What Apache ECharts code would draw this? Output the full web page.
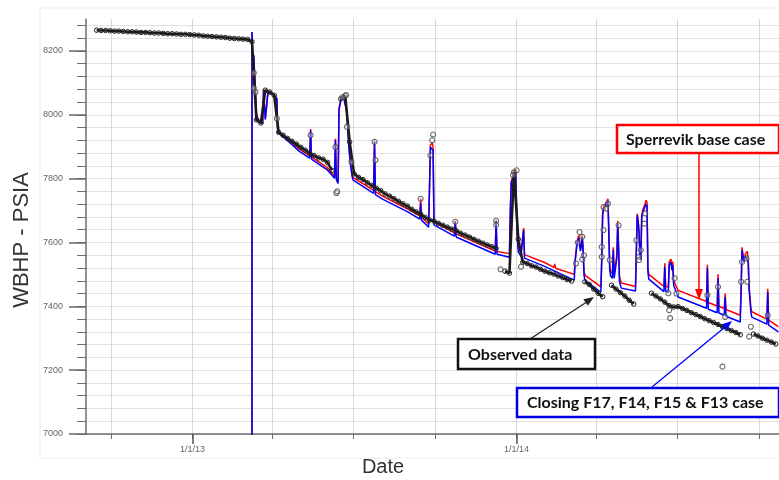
<!DOCTYPE html>
<html><head><meta charset="utf-8">
<script src="https://cdn.jsdelivr.net/npm/echarts@6/dist/echarts.min.js"></script>
<style>html,body{margin:0;padding:0;background:#fff}#c{width:779px;height:480px}</style>
</head><body><div id="c"></div>
<script>
// ---------- data ----------
const observedStart = '2012-09-15';
const observedStepDays = 5;
const observedValues = [
8265,8264,8264,8263,8262,8262,8261,8260,8260,8259,
8258,8258,8257,8256,8256,8255,8254,8254,8253,8252,
8252,8251,8250,8249,8247,8246,8245,8244,8243,8242,
8240,8239,8238,8237,8236,8229,7984,7974,8077,8071,
8061,7945,7936,7926,7917,7908,7898,7889,7880,7872,
7865,7861,7851,7826,null,8050,8060,7915,7815,7804,
7797,7787,7779,7770,7762,7752,7745,7737,7729,7721,
7714,7704,7696,7689,7679,7670,7667,7660,7654,7648,
7642,7637,7629,7623,7617,7610,7604,7598,7592,7587,
7581,null,7510,7504,7820,7610,7538,7534,7527,7523,
7516,7510,7505,7501,7495,7490,7484,7479,null,null,
7477,7468,7454,7441,7430,null,7466,7454,7443,7432,
7419,7407,null,null,null,7441,7432,7423,7413,7402,
7398,7399,7393,7387,7380,7374,7368,7361,7355,7349,
7343,7336,7330,7324,7318,7311,null,null,7313,7307,
7300,7294,7288,7282
];
const observedExtra = [
['2013-03-11',8131],['2013-03-11',8084],['2013-03-13',8071],['2013-04-06',7988],['2013-05-14',7936],
['2013-06-11',7899],['2013-06-12',7755],['2013-06-13',7760],['2013-06-19',8055],['2013-06-23',8062],
['2013-06-24',7962],['2013-06-29',7852],['2013-07-25',7915],['2013-07-26',7858],['2013-09-15',7737],
['2013-09-26',7873],['2013-09-28',7920],['2013-09-29',7938],['2013-10-24',7665],['2013-12-09',7668],
['2013-12-09',7655],['2013-12-14',7516],['2013-12-28',7811],['2014-01-01',7826],['2014-01-06',7524],
['2014-03-09',7534],['2014-03-11',7600],['2014-03-13',7633],['2014-03-16',7618],['2014-03-16',7547],
['2014-03-18',7560],['2014-04-07',7586],['2014-04-07',7555],['2014-04-09',7711],['2014-04-09',7639],
['2014-04-12',7706],['2014-04-14',7722],['2014-04-16',7545],['2014-04-26',7654],['2014-05-16',7607],
['2014-05-19',7555],['2014-05-19',7545],['2014-05-21',7576],['2014-05-25',7659],['2014-05-26',7691],
['2014-06-21',7441],['2014-06-22',7388],['2014-06-23',7363],['2014-06-28',7488],['2014-06-30',7440],
['2014-08-04',7435],['2014-08-16',7461],['2014-08-21',7211],['2014-08-24',7367],['2014-09-11',7477],
['2014-09-12',7539],['2014-09-17',7550],['2014-09-18',7477],['2014-09-20',7305],['2014-09-22',7336],
['2014-10-11',7372]
];
const baseCase = [
['2013-03-09',6000],['2013-03-09',8259],['2013-03-10',8135],['2013-03-11',8188],['2013-03-12',8125],['2013-03-14',8003],['2013-03-15',7993],['2013-03-18',7978],['2013-03-21',7975],['2013-03-22',8078],['2013-03-23',8073],['2013-03-24',7988],['2013-03-26',7988],['2013-03-27',8073],['2013-04-01',8068],['2013-04-06',8052],['2013-04-07',7948],['2013-04-08',7945],['2013-04-20',7920],['2013-05-01',7893],['2013-05-13',7871],['2013-05-14',7955],['2013-05-15',7868],['2013-06-01',7836],['2013-06-07',7818],['2013-06-10',7808],['2013-06-11',7925],['2013-06-12',7804],['2013-06-14',7792],['2013-06-15',8020],['2013-06-17',8050],['2013-06-20',8063],['2013-06-22',8058],['2013-06-24',8010],['2013-06-26',7906],['2013-06-28',7848],['2013-06-30',7810],['2013-07-01',7803],['2013-07-24',7763],['2013-07-25',7918],['2013-07-26',7759],['2013-08-03',7745],['2013-09-01',7704],['2013-09-14',7683],['2013-09-15',7738],['2013-09-16',7680],['2013-09-24',7658],['2013-09-26',7905],['2013-09-28',7912],['2013-09-29',7898],['2013-09-30',7664],['2013-10-01',7660],['2013-10-23',7630],['2013-10-24',7668],['2013-10-25',7627],['2013-12-08',7573],['2013-12-09',7670],['2013-12-10',7572],['2013-12-24',7565],['2013-12-25',7700],['2013-12-26',7792],['2013-12-31',7830],['2014-01-01',7826],['2014-01-02',7615],['2014-01-03',7580],['2014-01-06',7568],['2014-01-08',7567],['2014-01-09',7645],['2014-01-10',7562],['2014-02-01',7538],['2014-02-12',7522],['2014-02-13',7533],['2014-02-14',7519],['2014-03-07',7500],['2014-03-08',7545],['2014-03-10',7600],['2014-03-12',7622],['2014-03-13',7628],['2014-03-14',7580],['2014-03-15',7595],['2014-03-16',7625],['2014-03-17',7582],['2014-03-18',7510],['2014-03-19',7498],['2014-04-06',7461],['2014-04-07',7550],['2014-04-08',7692],['2014-04-09',7714],['2014-04-12',7724],['2014-04-14',7737],['2014-04-15',7732],['2014-04-16',7525],['2014-04-17',7510],['2014-04-19',7503],['2014-04-20',7585],['2014-04-21',7503],['2014-04-23',7498],['2014-04-24',7560],['2014-04-25',7668],['2014-04-26',7585],['2014-04-27',7492],['2014-04-29',7473],['2014-05-15',7462],['2014-05-16',7580],['2014-05-17',7690],['2014-05-18',7670],['2014-05-19',7635],['2014-05-20',7568],['2014-05-21',7552],['2014-05-22',7682],['2014-05-23',7700],['2014-05-25',7715],['2014-05-27',7732],['2014-05-28',7725],['2014-05-29',7520],['2014-05-30',7500],['2014-06-01',7496],['2014-06-16',7462],['2014-06-17',7535],['2014-06-18',7463],['2014-06-21',7460],['2014-06-22',7540],['2014-06-24',7548],['2014-06-25',7525],['2014-06-26',7540],['2014-06-27',7482],['2014-06-29',7468],['2014-07-02',7450],['2014-08-03',7415],['2014-08-04',7530],['2014-08-05',7412],['2014-08-15',7401],['2014-08-16',7500],['2014-08-17',7400],['2014-08-23',7393],['2014-08-24',7440],['2014-08-25',7390],['2014-09-10',7372],['2014-09-11',7460],['2014-09-12',7585],['2014-09-13',7580],['2014-09-14',7545],['2014-09-16',7565],['2014-09-18',7572],['2014-09-19',7545],['2014-09-20',7460],['2014-09-21',7430],['2014-09-22',7395],['2014-09-23',7383],['2014-10-10',7360],['2014-10-11',7455],['2014-10-12',7357],['2014-10-23',7336]
];
const closingCase = [
['2013-03-09',6000],['2013-03-09',8259],['2013-03-10',8130],['2013-03-11',8185],['2013-03-12',8120],['2013-03-14',8000],['2013-03-15',7990],['2013-03-18',7975],['2013-03-21',7972],['2013-03-22',8075],['2013-03-23',8070],['2013-03-24',7985],['2013-03-26',7985],['2013-03-27',8070],['2013-04-01',8066],['2013-04-06',8050],['2013-04-07',7945],['2013-04-08',7942],['2013-04-20',7914],['2013-05-01',7886],['2013-05-13',7864],['2013-05-14',7951],['2013-05-15',7861],['2013-06-01',7829],['2013-06-07',7811],['2013-06-10',7801],['2013-06-11',7920],['2013-06-12',7797],['2013-06-14',7785],['2013-06-15',8014],['2013-06-17',8045],['2013-06-20',8058],['2013-06-22',8052],['2013-06-24',8005],['2013-06-26',7901],['2013-06-28',7842],['2013-06-30',7804],['2013-07-01',7795],['2013-07-24',7754],['2013-07-25',7915],['2013-07-26',7750],['2013-08-03',7736],['2013-09-01',7695],['2013-09-14',7673],['2013-09-15',7723],['2013-09-16',7670],['2013-09-24',7648],['2013-09-26',7898],['2013-09-28',7901],['2013-09-29',7889],['2013-09-30',7655],['2013-10-01',7651],['2013-10-23',7620],['2013-10-24',7664],['2013-10-25',7617],['2013-12-08',7563],['2013-12-09',7667],['2013-12-10',7563],['2013-12-24',7554],['2013-12-25',7695],['2013-12-26',7786],['2013-12-31',7823],['2014-01-01',7820],['2014-01-02',7607],['2014-01-03',7570],['2014-01-06',7557],['2014-01-08',7557],['2014-01-09',7639],['2014-01-10',7551],['2014-02-01',7526],['2014-03-07',7482],['2014-03-08',7538],['2014-03-10',7592],['2014-03-12',7614],['2014-03-13',7620],['2014-03-14',7573],['2014-03-15',7588],['2014-03-16',7617],['2014-03-17',7576],['2014-03-18',7498],['2014-03-19',7482],['2014-04-06',7444],['2014-04-07',7545],['2014-04-08',7685],['2014-04-09',7707],['2014-04-12',7716],['2014-04-14',7729],['2014-04-15',7723],['2014-04-16',7513],['2014-04-17',7495],['2014-04-19',7488],['2014-04-20',7576],['2014-04-21',7488],['2014-04-23',7482],['2014-04-24',7551],['2014-04-25',7657],['2014-04-26',7576],['2014-04-27',7476],['2014-04-29',7457],['2014-05-15',7448],['2014-05-16',7576],['2014-05-17',7685],['2014-05-18',7664],['2014-05-19',7629],['2014-05-20',7560],['2014-05-21',7545],['2014-05-22',7676],['2014-05-23',7692],['2014-05-25',7707],['2014-05-27',7720],['2014-05-28',7713],['2014-05-29',7507],['2014-05-30',7485],['2014-06-01',7479],['2014-06-16',7446],['2014-06-17',7523],['2014-06-18',7448],['2014-06-21',7444],['2014-06-22',7529],['2014-06-24',7538],['2014-06-25',7513],['2014-06-26',7529],['2014-06-27',7466],['2014-06-29',7451],['2014-07-02',7429],['2014-08-03',7394],['2014-08-04',7520],['2014-08-05',7391],['2014-08-15',7380],['2014-08-16',7488],['2014-08-17',7379],['2014-08-23',7372],['2014-08-24',7429],['2014-08-25',7369],['2014-09-10',7351],['2014-09-11',7451],['2014-09-12',7576],['2014-09-13',7570],['2014-09-14',7538],['2014-09-16',7557],['2014-09-18',7563],['2014-09-19',7538],['2014-09-20',7451],['2014-09-21',7419],['2014-09-22',7382],['2014-09-23',7366],['2014-10-10',7344],['2014-10-11',7445],['2014-10-12',7341],['2014-10-23',7320]
];
const yMajorTicks = [7000,7200,7400,7600,7800,8000,8200];
const yMinorTicks = [7000,7040,7080,7120,7160,7200,7240,7280,7320,7360,7400,7440,7480,7520,7560,7600,7640,7680,7720,7760,7800,7840,7880,7920,7960,8000,8040,8080,8120,8160,8200,8240,8280];
const xQuarterTicks = ['2012-10-01','2013-01-01','2013-04-01','2013-07-01','2013-10-01','2014-01-01','2014-04-01','2014-07-01','2014-10-01'];
const xYearTicks = ['2013-01-01','2014-01-01'];
const xRange = ['2012-09-03','2014-10-23'];
const yRange = [7000, 8300];

// ---------- helpers ----------
function ts(s, addDays) {
  const p = s.split('-').map(Number);
  return new Date(p[0], p[1]-1, p[2] + (addDays||0)).getTime();
}
const pairs = arr => arr.map(d => [ts(d[0]), d[1]]);
const observedData = observedValues.map((v,i) => [ts(observedStart, i*observedStepDays), v]);
const fmtDate = v => { const d = new Date(v); return (d.getMonth()+1)+'/'+d.getDate()+'/'+String(d.getFullYear()).slice(2); };
const xMin = ts(xRange[0]), xMax = ts(xRange[1]) + 16*3600000;

const chart = echarts.init(document.getElementById('c'), null, {renderer:'canvas'});
const axisCol = '#6e6e6e';
chart.setOption({
  animation:false,
  backgroundColor:'#fff',
  grid:{left:86, right:0, top:19, bottom:46, outerBoundsMode:'none'},
  xAxis:[
    {type:'value', min:xMin, max:xMax, scale:true,
     axisLine:{show:true, lineStyle:{color:axisCol, width:1.5}},
     axisTick:{show:true, customValues:xQuarterTicks.map(s=>ts(s)), length:5, lineStyle:{color:axisCol, width:1}},
     axisLabel:{show:false},
     splitLine:{show:true, lineStyle:{color:'#d9d9d9', width:1}}},
    {type:'value', min:xMin, max:xMax, scale:true, position:'bottom',
     axisLine:{show:false},
     axisTick:{show:true, customValues:xYearTicks.map(s=>ts(s)), length:10, lineStyle:{color:'#555', width:1.5}},
     axisLabel:{show:true, customValues:xYearTicks.map(s=>ts(s)), formatter:fmtDate, fontSize:9, color:'#666', margin:11, fontFamily:'Liberation Sans'},
     splitLine:{show:false}}
  ],
  yAxis:[
    {type:'value', min:yRange[0], max:yRange[1],
     axisLine:{show:true, lineStyle:{color:axisCol, width:1.5}},
     axisTick:{show:true, customValues:yMinorTicks, length:9, lineStyle:{color:axisCol, width:1}},
     axisLabel:{show:false},
     splitLine:{show:true, lineStyle:{color:'#e2e2e2', width:1}}},
    {type:'value', min:yRange[0], max:yRange[1], position:'left',
     axisLine:{show:false},
     axisTick:{show:true, customValues:yMajorTicks, length:17, lineStyle:{color:'#666', width:1.5}},
     axisLabel:{show:true, customValues:yMajorTicks, formatter:v => String(v), fontSize:9, color:'#666', margin:23, fontFamily:'Liberation Sans'},
     splitLine:{show:false}}
  ],
  series:[
    {name:'Sperrevik base case', type:'line', data:pairs(baseCase), showSymbol:false,
     lineStyle:{color:'#ff0000', width:1.5}, itemStyle:{color:'#ff0000'}, z:2},
    {name:'Closing F17, F14, F15 & F13 case', type:'line', data:pairs(closingCase), showSymbol:false,
     lineStyle:{color:'#0000ff', width:1.5}, itemStyle:{color:'#0000ff'}, z:3},
    {name:'Observed data', type:'line', data:observedData, connectNulls:false,
     showAllSymbol:true, symbol:'circle', symbolSize:4.5,
     lineStyle:{color:'#1a1a1a', width:2.6},
     itemStyle:{color:'rgba(0,0,0,0)', borderColor:'#222', borderWidth:1}, z:4},
    {name:'Observed data extra', type:'scatter', data:pairs(observedExtra), symbol:'circle', symbolSize:5,
     itemStyle:{color:'rgba(255,255,255,0.4)', borderColor:'#444', borderWidth:1.1}, z:5}
  ],
  graphic:[
    {type:'rect', z:-10, silent:true, shape:{x:40, y:8, width:760, height:450}, style:{fill:'none', stroke:'#eeeeee', lineWidth:1}},
    {type:'text', z:100, x:22, y:240, rotation:Math.PI/2,
     style:{text:'WBHP - PSIA', fontSize:22, fontFamily:'Liberation Sans', fill:'#333', align:'center', verticalAlign:'middle'}},
    {type:'text', z:100, x:383, y:467,
     style:{text:'Date', fontSize:20, fontFamily:'Liberation Sans', fill:'#333', align:'center', verticalAlign:'middle'}},
    {type:'line', z:100, shape:{x1:699, y1:153, x2:699, y2:290}, style:{stroke:'#ff0000', lineWidth:1.5}},
    {type:'polygon', z:100, shape:{points:[[699,300],[695,289],[703,289]]}, style:{fill:'#ff0000'}},
    {type:'rect', z:100, shape:{x:617, y:125, width:162, height:28}, style:{fill:'#fff', stroke:'#ff0000', lineWidth:2.5}},
    {type:'text', z:101, x:626, y:139.5, style:{text:'Sperrevik base case', fontSize:16, fontWeight:'bold', fontFamily:'Lato', fill:'#111', verticalAlign:'middle'}},
    {type:'line', z:100, shape:{x1:530, y1:339, x2:586, y2:302.5}, style:{stroke:'#222', lineWidth:1.3}},
    {type:'polygon', z:100, shape:{points:[[594,297],[587.8,305.8],[583.4,299.2]]}, style:{fill:'#222'}},
    {type:'rect', z:100, shape:{x:458, y:339, width:137, height:30}, style:{fill:'#fff', stroke:'#111', lineWidth:2.5}},
    {type:'text', z:101, x:468, y:354.5, style:{text:'Observed data', fontSize:16, fontWeight:'bold', fontFamily:'Lato', fill:'#111', verticalAlign:'middle'}},
    {type:'line', z:100, shape:{x1:652, y1:387, x2:724.5, y2:327.5}, style:{stroke:'#0000ff', lineWidth:1.3}},
    {type:'polygon', z:100, shape:{points:[[732,321],[726.8,330.5],[721.8,324.3]]}, style:{fill:'#0000ff'}},
    {type:'rect', z:100, shape:{x:517, y:388, width:262, height:29}, style:{fill:'#fff', stroke:'#0000e6', lineWidth:2.5}},
    {type:'text', z:101, x:527, y:402.5, style:{text:'Closing F17, F14, F15 & F13 case', fontSize:16, fontWeight:'bold', fontFamily:'Lato', fill:'#111', verticalAlign:'middle'}}
  ]
});
</script></body></html>
